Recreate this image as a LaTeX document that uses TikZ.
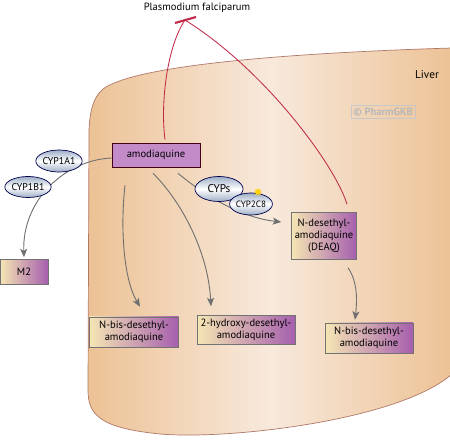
\documentclass[tikz,border=0pt]{standalone}
\usepackage{fontspec}
\setmainfont{PT Sans}
\usetikzlibrary{calc,arrows.meta,shapes.geometric}

\definecolor{liverout}{HTML}{ECC295}
\definecolor{liverin}{HTML}{F8E9DC}
\definecolor{liverline}{HTML}{B07868}
\definecolor{cream}{HTML}{F5E6B4}
\definecolor{mauve}{HTML}{A65FAE}
\definecolor{drugfill}{HTML}{C48BC9}
\definecolor{enzfill}{HTML}{9DADC6}
\definecolor{inhibred}{HTML}{C02A48}
\definecolor{flowgray}{HTML}{707070}

\tikzset{
  metab/.style={draw=black!55, line width=0.4pt, left color=cream, right color=mauve,
    align=center, inner sep=1pt, font=\fontsize{7.5}{8.5}\selectfont},
  enz/.style={ellipse, draw=black!70!blue, line width=0.5pt, top color=enzfill,
    bottom color=enzfill, middle color=white, inner sep=0pt, font=\fontsize{6.5}{7}\selectfont},
  conv/.style={draw=flowgray, line width=0.65pt, -{Stealth[length=6pt,width=5pt,inset=1.5pt]}},
  block/.style={draw=inhibred, line width=0.6pt},
}

\begin{document}
\begin{tikzpicture}[x=0.025cm,y=-0.025cm]
  %%%%% START %%%%%
  \useasboundingbox (0,0) rectangle (450,440);

  % liver
  \path[draw=liverline, line width=0.5pt, left color=liverout, right color=liverout, middle color=liverin]
    (452,48) .. controls (320,52) and (160,62) .. (112,84)
    .. controls (96,90) and (90,105) .. (89,130)
    -- (88,390) .. controls (88,415) and (100,428) .. (160,434)
    .. controls (230,440) and (400,420) .. (452,374) -- cycle;
  \node[font=\fontsize{8}{9}\selectfont] (liver) at (427,75) {Liver};
  \node[draw=black!22, text=black!28, inner sep=1.5pt, font=\bfseries\fontsize{7.5}{8}\selectfont] (wm) at (383,112) {© PharmGKB};

  % compounds
  \node[draw=black!65!purple, fill=drugfill, minimum width=2.2cm, minimum height=0.6cm,
    font=\fontsize{7.5}{8.5}\selectfont] (amq) at (156,155) {amodiaquine};
  \node[metab, minimum width=1.625cm, minimum height=1.175cm] (deaq) at (324,236) {N-desethyl-\\amodiaquine\\(DEAQ)};
  \node[metab, minimum width=1.2cm, minimum height=0.625cm] (m2) at (24,272) {M2};
  \node[metab, minimum width=2.225cm, minimum height=0.75cm] (nbis1) at (134,332) {N-bis-desethyl-\\amodiaquine};
  \node[metab, minimum width=2.45cm, minimum height=0.725cm] (hyd) at (246,330) {2-hydroxy-desethyl-\\amodiaquine};
  \node[metab, minimum width=2.2cm, minimum height=0.75cm] (nbis2) at (369,338) {N-bis-desethyl-\\amodiaquine};

  % target
  \node[font=\fontsize{7.5}{8.5}\selectfont] (pf) at (197,8) {Plasmodium falciparum};
  \coordinate (bar) at (185,20);

  % metabolism
  \draw[conv] ($(amq.west)+(0,3)$) .. controls (65,160) and (22,200) .. ($(m2.north)+(0,-2)$);
  \draw[conv] ($(amq.south)+(-31,18)$) .. controls (120,230) and (124,280) .. ($(nbis1.north)+(6,-10)$);
  \draw[conv] ($(amq.south)+(-3,6)$) .. controls (180,200) and (208,250) .. ($(hyd.north)+(-35,-9)$);
  \draw[conv] ($(amq.south)+(22,6)$) .. controls (210,200) and (245,218) .. ($(deaq.west)+(-10,-14)$);
  \draw[conv] ($(deaq.south)+(24,8)$) .. controls (358,282) and (357,302) .. ($(nbis2.north)+(-14,-3)$);

  % inhibition
  \draw[block] ($(amq.north)+(9,-3)$) .. controls (160,100) and (168,45) .. (bar);
  \draw[block] ($(deaq.north)+(23,-8)$) .. controls (335,165) and (265,70) .. (bar);
  \draw[block, line width=1.5pt] ($(bar)+(-10,3)$) -- ($(bar)+(11,-3)$);

  % enzymes
  \node[enz, minimum width=1.125cm, minimum height=0.55cm, font=\fontsize{7}{8}\selectfont] (cyp1a1) at (59,161) {CYP1A1};
  \node[enz, minimum width=1.075cm, minimum height=0.525cm, font=\fontsize{7}{8}\selectfont] (cyp1b1) at (28,187) {CYP1B1};
  \node[enz, minimum width=1.2cm, minimum height=0.625cm, font=\fontsize{8}{9}\selectfont] (cyps) at (219,189) {CYPs};
  \node[enz, minimum width=1.0cm, minimum height=0.55cm] (cyp2c8) at (251,204) {CYP2C8};
  \node[star, star points=8, star point ratio=1.8, fill=yellow!70!orange, inner sep=0pt, minimum size=0.2cm] (glow) at (258,192) {};

  %%%%% END %%%%%
\end{tikzpicture}
\end{document}
